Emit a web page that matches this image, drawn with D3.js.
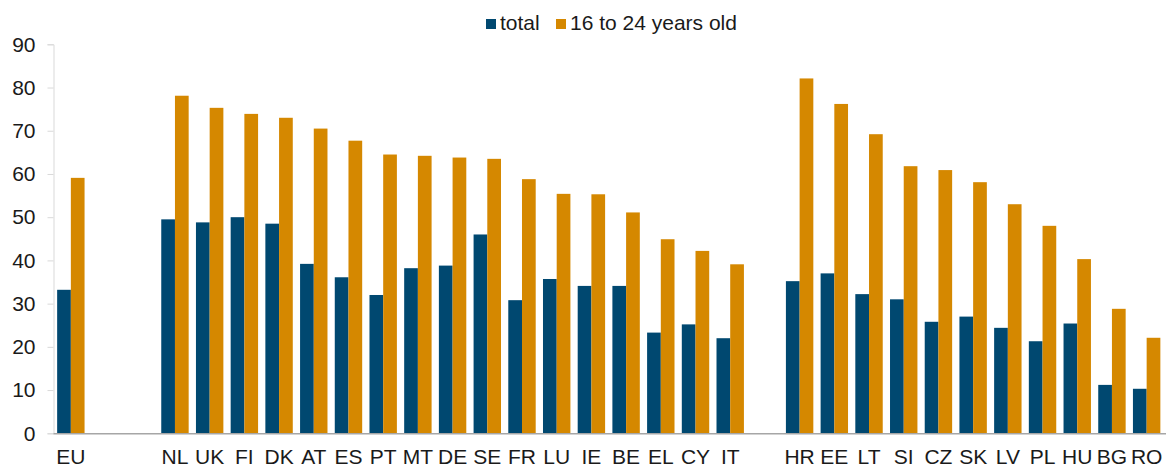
<!DOCTYPE html>
<html>
<head>
<meta charset="utf-8">
<script src="https://cdn.jsdelivr.net/npm/d3@7"></script>
<style>
  body { margin: 0; background: #fff; }
  svg text { font-family: "Liberation Sans", Arial, sans-serif; fill: #1a1a1a; }
</style>
</head>
<body>
<svg id="chart" width="1168" height="469"></svg>
<script>
/* Slots: empty strings are the gaps between the groups */
var categories = ["EU", "", "",
	"NL", "UK", "FI", "DK", "AT", "ES", "PT", "MT", "DE", "SE", "FR", "LU", "IE", "BE", "EL", "CY", "IT", "",
	"HR", "EE", "LT", "SI", "CZ", "SK", "LV", "PL", "HU", "BG", "RO"];
var total = [33.2, null, null,
	49.5, 48.8, 50.0, 48.5, 39.2, 36.1, 32.0, 38.2, 38.8, 46.0, 30.8, 35.7, 34.1, 34.1, 23.3, 25.2, 22.0, null,
	35.2, 37.0, 32.2, 31.0, 25.8, 27.0, 24.4, 21.3, 25.4, 11.2, 10.3];
var young = [59.1, null, null,
	78.1, 75.3, 73.9, 73.0, 70.5, 67.7, 64.5, 64.2, 63.8, 63.5, 58.8, 55.4, 55.3, 51.1, 44.9, 42.2, 39.1, null,
	82.1, 76.2, 69.2, 61.8, 60.9, 58.1, 53.0, 48.0, 40.3, 28.8, 22.1];
var series = ["total", "16 to 24 years old"];
var colors = ["#004870", "#d58800"];
var yTicks = [0, 10, 20, 30, 40, 50, 60, 70, 80, 90];

var svg = d3.select("#chart");
var plotL = 53.5, plotR = 1164, plotT = 44.3, plotB = 433.3;

var x0 = d3.scaleBand()
	.domain(d3.range(categories.length))
	.range([plotL, plotR])
	.paddingInner(0.21)
	.paddingOuter(0.105);
var x1 = d3.scaleBand()
	.domain([0, 1])
	.range([0, x0.bandwidth()]);
var y = d3.scaleLinear().domain([0, 90]).range([plotB, plotT]);

// y axis
var yAxis = svg.append("g")
	.attr("transform", "translate(" + plotL + ",0)")
	.call(d3.axisLeft(y).tickValues(yTicks).tickSize(6).tickPadding(12));
yAxis.select(".domain").attr("stroke", "#d9d9d9");
yAxis.selectAll(".tick line").attr("stroke", "#d9d9d9");
yAxis.selectAll(".tick text").attr("font-size", "21px").attr("fill", "#1a1a1a");

// bars
var rows = categories.map(function(c, i){ return {i: i, v: [total[i], young[i]]}; })
	.filter(function(d){ return d.v[0] != null; });

var groups = svg.append("g").selectAll("g")
	.data(rows)
	.enter().append("g")
	.attr("transform", function(d){ return "translate(" + x0(d.i) + ",0)"; });

groups.selectAll("rect")
	.data(function(d){ return d.v.map(function(v, k){ return {k: k, v: v}; }); })
	.enter().append("rect")
	.attr("x", function(d){ return x1(d.k); })
	.attr("y", function(d){ return y(d.v); })
	.attr("width", x1.bandwidth())
	.attr("height", function(d){ return plotB - y(d.v); })
	.attr("fill", function(d){ return colors[d.k]; });

// x axis
var xAxis = svg.append("g")
	.attr("transform", "translate(0," + plotB + ")")
	.call(d3.axisBottom(x0).tickSize(0).tickPadding(16).tickFormat(function(i){ return categories[i]; }));
xAxis.select(".domain").attr("stroke", "#a6a6a6").attr("stroke-width", 1.5).attr("d", "M" + plotL + ",0.5H" + (plotR + 2));
xAxis.selectAll(".tick text").attr("font-size", "21px").attr("fill", "#1a1a1a");

// legend
var legendX = [486, 556];
var legend = svg.append("g");
series.forEach(function(s, k){
	legend.append("rect")
		.attr("x", legendX[k])
		.attr("y", 19)
		.attr("width", 10)
		.attr("height", 10)
		.attr("fill", colors[k]);
	legend.append("text")
		.attr("x", legendX[k] + 14)
		.attr("y", 30)
		.attr("font-size", "21px")
		.text(s);
});
</script>
</body>
</html>
